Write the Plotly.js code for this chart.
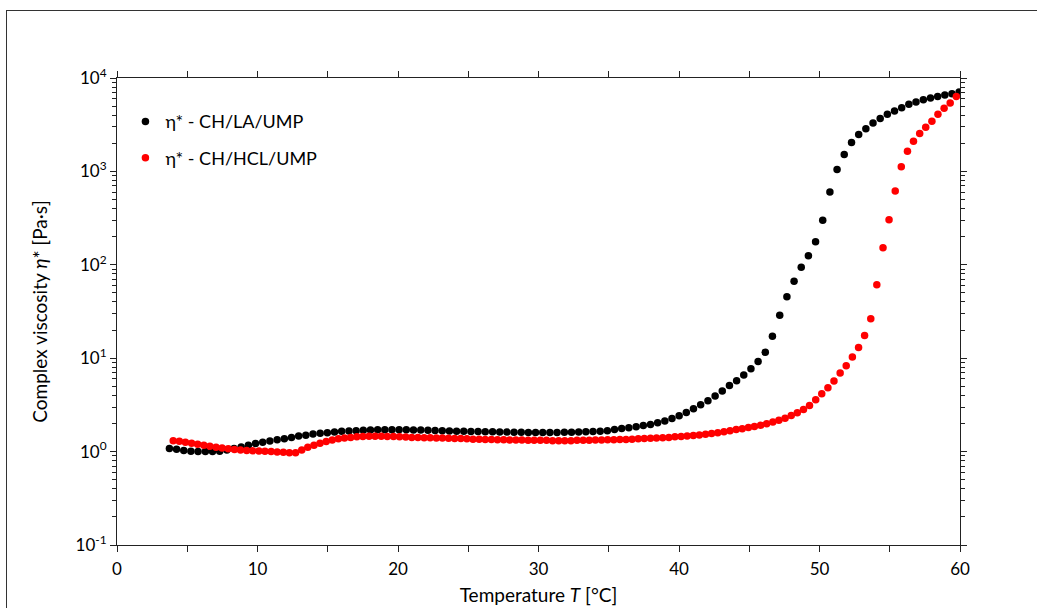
<!DOCTYPE html>
<html>
<head>
<meta charset="utf-8">
<script src="https://cdn.plot.ly/plotly-3.0.1.min.js"></script>
<style>
  html, body { margin: 0; padding: 0; background: #fff; }
  #wrap { position: relative; width: 1037px; height: 608px; overflow: hidden; }
  #frame { position: absolute; left: 6px; top: 10px; width: 1100px; height: 700px;
           border-left: 1px solid #333; border-top: 1px solid #333; pointer-events: none; }
  #chart { position: absolute; left: 0; top: 0; width: 1037px; height: 608px; }
</style>
</head>
<body>
<div id="wrap">
  <div id="chart"></div>
  <div id="frame"></div>
</div>
<script>
// Temperature sweep, complex viscosity of CH/LA/UMP
const tempLA = [
  3.73, 4.24, 4.75, 5.26, 5.77, 6.29, 6.80, 7.31, 7.82, 8.33,
  8.84, 9.35, 9.86, 10.37, 10.88, 11.40, 11.91, 12.42, 12.93, 13.44,
  13.95, 14.46, 14.97, 15.48, 15.99, 16.51, 17.02, 17.53, 18.04, 18.55,
  19.06, 19.57, 20.08, 20.59, 21.10, 21.62, 22.13, 22.64, 23.15, 23.66,
  24.17, 24.68, 25.19, 25.70, 26.21, 26.73, 27.24, 27.75, 28.26, 28.77,
  29.28, 29.79, 30.30, 30.81, 31.32, 31.84, 32.35, 32.86, 33.37, 33.88,
  34.39, 34.90, 35.41, 35.92, 36.43, 36.95, 37.46, 37.97, 38.48, 38.99,
  39.50, 40.01, 40.52, 41.03, 41.54, 42.06, 42.57, 43.08, 43.59, 44.10,
  44.61, 45.12, 45.63, 46.14, 46.65, 47.17, 47.68, 48.19, 48.70, 49.21,
  49.72, 50.23, 50.74, 51.25, 51.76, 52.28, 52.79, 53.30, 53.81, 54.32,
  54.83, 55.34, 55.85, 56.36, 56.87, 57.39, 57.90, 58.41, 58.92, 59.43,
  59.94
];
const etaLA = [
  1.08, 1.06, 1.03, 1.01, 1.00, 1.00, 1.00, 1.01, 1.04, 1.08,
  1.12, 1.17, 1.22, 1.26, 1.30, 1.34, 1.37, 1.42, 1.47, 1.50,
  1.54, 1.57, 1.59, 1.62, 1.65, 1.66, 1.67, 1.69, 1.70, 1.71,
  1.71, 1.71, 1.71, 1.71, 1.70, 1.70, 1.69, 1.68, 1.67, 1.66,
  1.65, 1.65, 1.64, 1.64, 1.63, 1.63, 1.62, 1.62, 1.61, 1.61,
  1.60, 1.60, 1.60, 1.60, 1.60, 1.61, 1.61, 1.62, 1.63, 1.64,
  1.65, 1.67, 1.72, 1.77, 1.80, 1.85, 1.90, 1.95, 2.04, 2.13,
  2.26, 2.42, 2.63, 2.88, 3.17, 3.50, 3.95, 4.45, 5.10, 5.75,
  6.60, 7.70, 9.2, 11.6, 17.2, 28.8, 45.5, 66.5, 94, 125,
  176, 300, 600, 1050, 1520, 2040, 2480, 2860, 3300, 3680,
  4090, 4430, 4810, 5220, 5520, 5860, 6090, 6350, 6560, 6790,
  7060
];

// Temperature sweep, complex viscosity of CH/HCL/UMP
const tempHCL = [
  4.00, 4.44, 4.87, 5.31, 5.74, 6.18, 6.61, 7.05, 7.48, 7.92,
  8.36, 8.79, 9.23, 9.66, 10.10, 10.53, 10.97, 11.40, 11.84, 12.27,
  12.71, 13.15, 13.58, 14.02, 14.45, 14.89, 15.32, 15.76, 16.19, 16.63,
  17.07, 17.50, 17.94, 18.37, 18.81, 19.24, 19.68, 20.11, 20.55, 20.98,
  21.42, 21.86, 22.29, 22.73, 23.16, 23.60, 24.03, 24.47, 24.90, 25.34,
  25.78, 26.21, 26.65, 27.08, 27.52, 27.95, 28.39, 28.82, 29.26, 29.69,
  30.13, 30.57, 31.00, 31.44, 31.87, 32.31, 32.74, 33.18, 33.61, 34.05,
  34.49, 34.92, 35.36, 35.79, 36.23, 36.66, 37.10, 37.53, 37.97, 38.40,
  38.84, 39.28, 39.71, 40.15, 40.58, 41.02, 41.45, 41.89, 42.32, 42.76,
  43.20, 43.63, 44.07, 44.50, 44.94, 45.37, 45.81, 46.24, 46.68, 47.11,
  47.55, 47.99, 48.42, 48.86, 49.29, 49.73, 50.16, 50.60, 51.03, 51.47,
  51.90, 52.34, 52.78, 53.21, 53.65, 54.08, 54.52, 54.95, 55.39, 55.82,
  56.26, 56.69, 57.13, 57.56, 58.00, 58.43, 58.87, 59.30, 59.74
];
const etaHCL = [
  1.31, 1.29, 1.26, 1.23, 1.20, 1.17, 1.14, 1.11, 1.09, 1.07,
  1.05, 1.04, 1.03, 1.02, 1.015, 1.01, 1.00, 0.99, 0.985, 0.975,
  0.975, 1.04, 1.11, 1.17, 1.23, 1.28, 1.33, 1.37, 1.40, 1.42,
  1.44, 1.45, 1.46, 1.46, 1.46, 1.45, 1.45, 1.44, 1.43, 1.42,
  1.42, 1.41, 1.41, 1.40, 1.40, 1.39, 1.38, 1.38, 1.37, 1.36,
  1.36, 1.35, 1.35, 1.34, 1.34, 1.33, 1.33, 1.33, 1.32, 1.32,
  1.32, 1.32, 1.31, 1.31, 1.31, 1.31, 1.32, 1.32, 1.32, 1.33,
  1.33, 1.34, 1.34, 1.35, 1.35, 1.36, 1.37, 1.38, 1.39, 1.40,
  1.41, 1.42, 1.44, 1.45, 1.47, 1.49, 1.51, 1.53, 1.56, 1.59,
  1.63, 1.67, 1.72, 1.76, 1.81, 1.86, 1.92, 1.99, 2.07, 2.17,
  2.28, 2.44, 2.61, 2.82, 3.12, 3.60, 4.15, 4.82, 5.70, 6.95,
  8.30, 10.3, 13.0, 17.5, 26.5, 61, 152, 303, 615, 1120,
  1640, 2100, 2540, 2970, 3450, 4080, 4740, 5400, 6350
];

// Axis ticks
const decadeVals = [0.1, 1, 10, 100, 1000, 10000];
const decadeText = ['10<sup>-1</sup>', '10<sup>0</sup>', '10<sup>1</sup>', '10<sup>2</sup>', '10<sup>3</sup>', '10<sup>4</sup>'];
const seriesNames = ['η* - CH/LA/UMP', 'η* - CH/HCL/UMP'];

const font = 'Lato, "Open Sans", sans-serif';

const traces = [
  {
    x: tempLA, y: etaLA, name: seriesNames[0], type: 'scatter', mode: 'markers',
    legendgroup: 'la',
    marker: { color: '#000000', size: 7.5 }
  },
  {
    x: tempHCL, y: etaHCL, name: seriesNames[1], type: 'scatter', mode: 'markers',
    legendgroup: 'hcl',
    marker: { color: '#ff0000', size: 7.5 }
  }
];

const layout = {
  width: 1037, height: 608,
  margin: { l: 117, r: 77, t: 78, b: 62.5 },
  paper_bgcolor: '#ffffff', plot_bgcolor: '#ffffff',
  font: { family: font, size: 17, color: '#000' },
  showlegend: true,
  legend: {
    x: 0.010, y: 0.946, xanchor: 'left', yanchor: 'top',
    bgcolor: 'rgba(0,0,0,0)', traceorder: 'grouped', tracegroupgap: 10,
    itemwidth: 30, font: { family: font, size: 18, color: '#000' }
  },
  xaxis: {
    range: [0, 60], dtick: 10, tick0: 0,
    showgrid: false, zeroline: false,
    showline: true, linecolor: '#222', linewidth: 1, mirror: 'ticks',
    ticks: 'outside', ticklen: 6, tickcolor: '#222', ticklabelstandoff: 3,
    minor: { dtick: 5, ticks: 'outside', ticklen: 6, tickcolor: '#222', showgrid: false },
    tickfont: { family: font, size: 17, color: '#000' },
    title: { text: 'Temperature <i>T</i> [°C]', font: { family: font, size: 19, color: '#000' }, standoff: 10 }
  },
  yaxis: {
    type: 'log', range: [-1, 4],
    tickmode: 'array', tickvals: decadeVals, ticktext: decadeText,
    showgrid: false, zeroline: false,
    showline: true, linecolor: '#222', linewidth: 1, mirror: 'ticks',
    ticks: 'outside', ticklen: 6, tickcolor: '#222',
    minor: { dtick: 'D1', ticks: 'outside', ticklen: 4, tickcolor: '#222', showgrid: false },
    tickfont: { family: font, size: 17, color: '#000' },
    title: { text: 'Complex viscosity <i>η</i>* [Pa·s]', font: { family: font, size: 19, color: '#000' }, standoff: 22 }
  }
};

Plotly.newPlot('chart', traces, layout, { displayModeBar: false, staticPlot: true });
</script>
</body>
</html>
